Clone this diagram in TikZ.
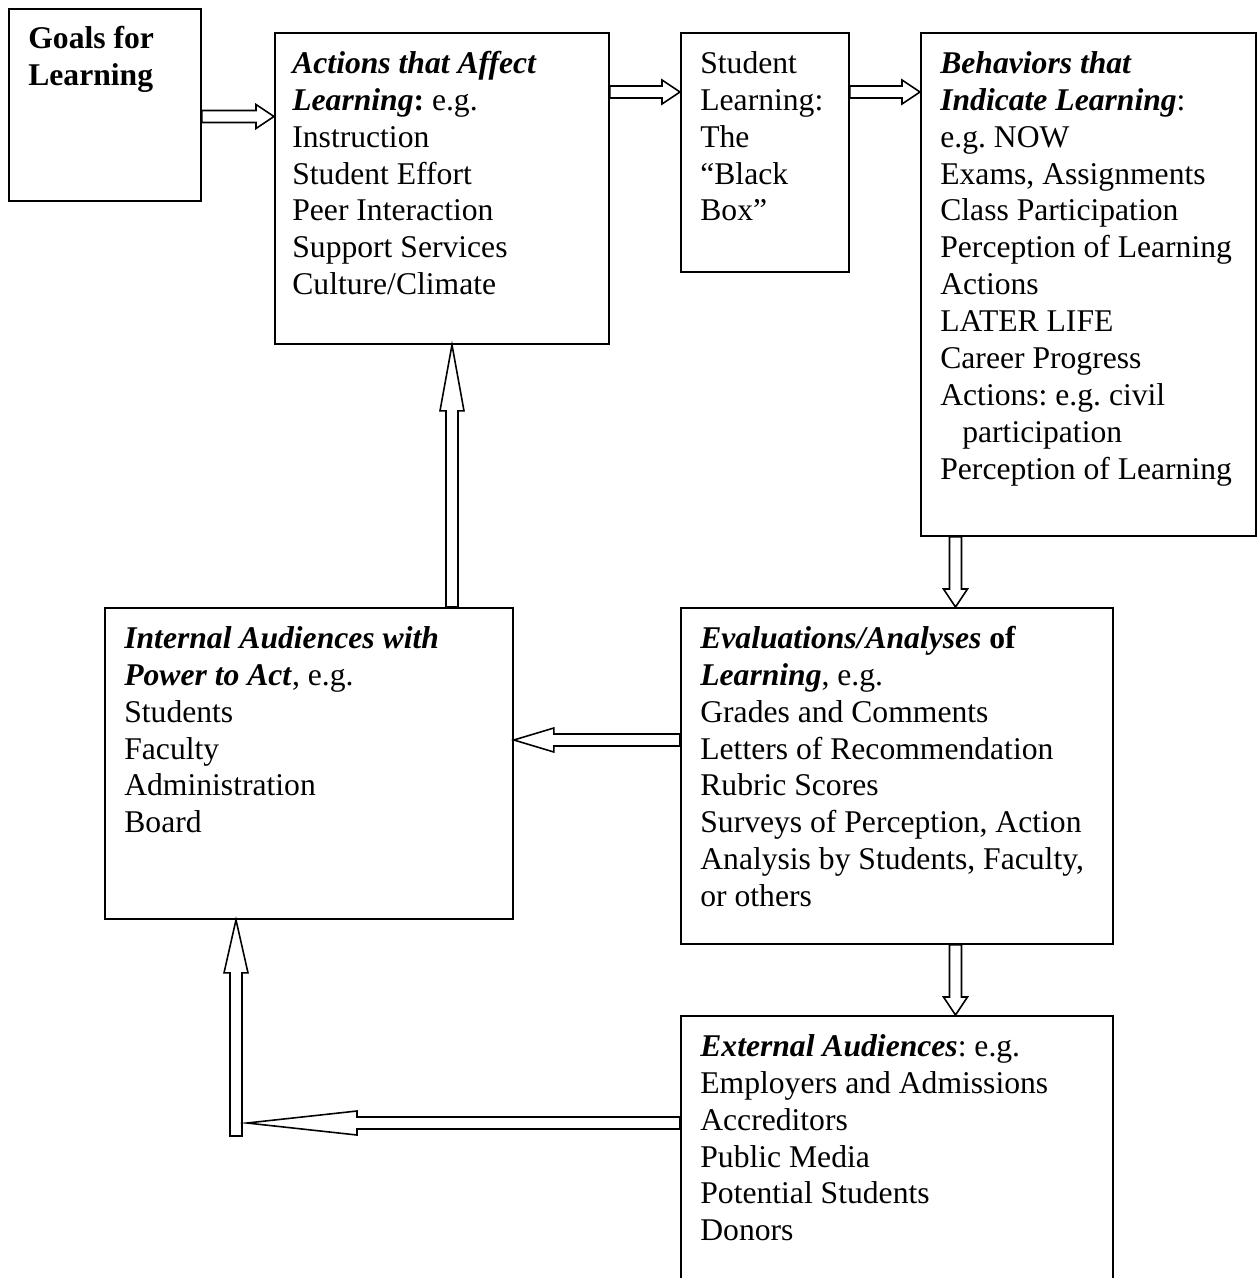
\documentclass[tikz,border=0pt]{standalone}
\usepackage{fontspec}
\setmainfont{Liberation Serif}
\usetikzlibrary{calc}
\frenchspacing

\newcommand{\blockarrow}[3]{%
  \coordinate (ba-h) at ($(#2)!#3!(#1)$);
  \draw[flow] ($(#1)!0.12cm!90:(ba-h)$) -- ($(ba-h)!0.12cm!-90:(#1)$)
    -- ($(ba-h)!0.24cm!-90:(#1)$) -- (#2) -- ($(ba-h)!0.24cm!90:(#1)$)
    -- ($(ba-h)!0.12cm!90:(#1)$) -- ($(#1)!0.12cm!-90:(ba-h)$) -- cycle;
}

\begin{document}
\begin{tikzpicture}[x=0.02cm, y=-0.02cm,
    box/.style={draw, line width=1.1pt, inner sep=0pt, anchor=north west},
    txt/.style={anchor=north west, align=left, inner sep=0pt, font=\fontsize{18}{21}\selectfont\frenchspacing},
    flow/.style={draw, line width=0.9pt, line join=miter}]
    \useasboundingbox (0,0) rectangle (1257,1278);
    \clip (0,0) rectangle (1257,1278);

    \node[box, minimum width=3.84cm, minimum height=3.84cm] (goals) at (8,8) {};
    \node[box, minimum width=6.68cm, minimum height=6.22cm] (actions) at (274,32) {};
    \node[box, minimum width=3.36cm, minimum height=4.78cm] (blackbox) at (680,32) {};
    \node[box, minimum width=6.70cm, minimum height=10.06cm] (behaviors) at (920,32) {};
    \node[box, minimum width=8.16cm, minimum height=6.22cm] (internal) at (104,607) {};
    \node[box, minimum width=8.64cm, minimum height=6.72cm] (evaluations) at (680,607) {};
    \node[box, minimum width=8.64cm, minimum height=6.00cm] (external) at (680,1015) {};

    \node[txt, font=\fontsize{18}{21}\selectfont\bfseries] (goalstext) at ($(goals.north west)+(20,14.2)$) {\strut Goals for\\Learning};
    \node[txt] (actionstext) at ($(actions.north west)+(18,15.2)$) {\strut\textbf{\textit{Actions that Affect}}\\\textbf{\textit{Learning}}\textbf{:} e.g.\\Instruction\\Student Effort\\Peer Interaction\\Support Services\\Culture/Climate};
    \node[txt] (blackboxtext) at ($(blackbox.north west)+(20,15.2)$) {\strut Student\\Learning:\\The\\“Black\\Box”};
    \node[txt] (behaviorstext) at ($(behaviors.north west)+(20,15.2)$) {\strut\textbf{\textit{Behaviors that}}\\\textbf{\textit{Indicate Learning}}:\\e.g. NOW\\Exams, Assignments\\Class Participation\\Perception of Learning\\Actions\\LATER LIFE\\Career Progress\\Actions: e.g. civil\\\hspace*{12.5pt}participation\\Perception of Learning};
    \node[txt] (internaltext) at ($(internal.north west)+(20,15.2)$) {\strut\textbf{\textit{Internal Audiences with}}\\\textbf{\textit{Power to Act}}, e.g.\\Students\\Faculty\\Administration\\Board};
    \node[txt] (evaluationstext) at ($(evaluations.north west)+(20,15.2)$) {\strut\textbf{\textit{Evaluations/Analyses}} \textbf{of}\\\textbf{\textit{Learning}}, e.g.\\Grades and Comments\\Letters of Recommendation\\Rubric Scores\\Surveys of Perception, Action\\Analysis by Students, Faculty,\\or others};
    \node[txt] (externaltext) at ($(external.north west)+(20,15.2)$) {\strut\textbf{\textit{External Audiences}}: e.g.\\Employers and Admissions\\Accreditors\\Public Media\\Potential Students\\Donors};

    % arrow ends
    \coordinate (a1) at ($(goals.north east)+(0,108.5)$);
    \coordinate (a1t) at (a1 -| actions.west);
    \coordinate (a2) at ($(actions.north east)+(0,60)$);
    \coordinate (a2t) at (a2 -| blackbox.west);
    \coordinate (a3) at ($(blackbox.north east)+(0,60)$);
    \coordinate (a3t) at (a3 -| behaviors.west);
    \coordinate (a4) at ($(behaviors.south west)+(35.5,0)$);
    \coordinate (a4t) at (a4 |- evaluations.north);
    \coordinate (a5) at ($(evaluations.north west)+(0,133)$);
    \coordinate (a5t) at (a5 -| internal.east);
    \coordinate (a6) at ($(internal.north west)+(348,0)$);
    \coordinate (a6t) at (a6 |- actions.south);
    \coordinate (a7) at ($(evaluations.south west)+(275.5,0)$);
    \coordinate (a7t) at (a7 |- external.north);
    \coordinate (a8) at ($(external.north west)+(0,108)$);
    \coordinate (a8t) at (247,1123);
    \coordinate (corner) at (236,1136);
    \coordinate (a9t) at (corner |- internal.south);

    \blockarrow{a1}{a1t}{0.36cm}
    \blockarrow{a2}{a2t}{0.36cm}
    \blockarrow{a3}{a3t}{0.36cm}
    \blockarrow{a4}{a4t}{0.36cm}
    \blockarrow{a5}{a5t}{0.8cm}
    \blockarrow{a6}{a6t}{1.32cm}
    \blockarrow{a7}{a7t}{0.36cm}
    \blockarrow{a8}{a8t}{2.2cm}
    \blockarrow{corner}{a9t}{1.06cm}
\end{tikzpicture}
\end{document}
